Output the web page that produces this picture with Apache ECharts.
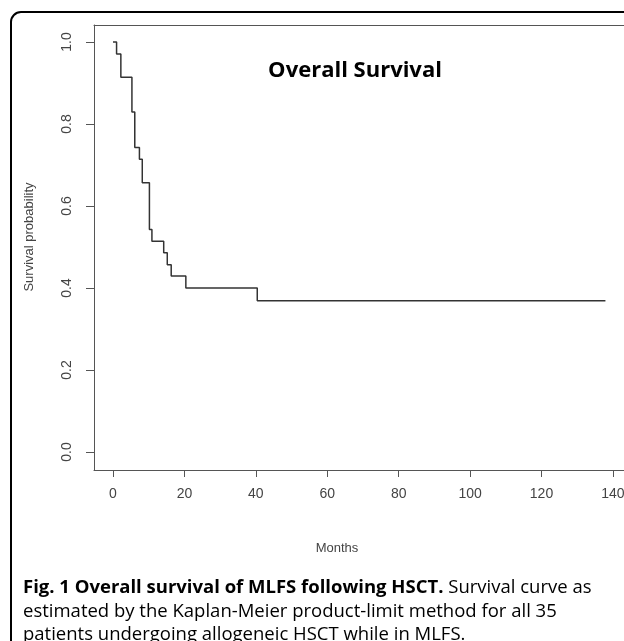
<!DOCTYPE html>
<html><head><meta charset="utf-8">
<script src="https://cdn.jsdelivr.net/npm/echarts@6/dist/echarts.min.js"></script>
<style>html,body{margin:0;padding:0;background:#fff}#c{width:624px;height:641px}</style>
</head><body><div id="c"></div>
<script>
// Kaplan-Meier estimate: time of each step (months) and survival after the step
const times = [0, 1, 2.2, 5.3, 6.1, 7.4, 8.2, 10.2, 10.9, 14.2, 15.2, 16.3, 20.4, 40.4, 137.9];
const survival = [1.0, 0.971, 0.914, 0.829, 0.743, 0.714, 0.657, 0.543, 0.514, 0.486, 0.457, 0.429, 0.400, 0.369, 0.369];
const xTicks = [0, 20, 40, 60, 80, 100, 120, 140];
const yTicks = [0, 0.2, 0.4, 0.6, 0.8, 1.0];
const yTickLabels = ['0.0', '0.2', '0.4', '0.6', '0.8', '1.0'];
const chartTitle = 'Overall Survival';
const xTitle = 'Months';
const yTitle = 'Survival probability';
const captionBold = 'Fig. 1 Overall survival of MLFS following HSCT.';
const captionLines = [' Survival curve as', 'estimated by the Kaplan-Meier product-limit method for all 35', 'patients undergoing allogeneic HSCT while in MLFS.'];

const chart = echarts.init(document.getElementById('c'), null, {renderer: 'canvas'});
const axisFont = {fontFamily: 'Liberation Sans, Arial, sans-serif', fontSize: 14, color: '#444'};
const boxLine = {show: true, onZero: false, lineStyle: {color: '#555', width: 1}};
const xRange = {min: -5.32, max: 143.1};
chart.setOption({
  animation: false,
  grid: {left: 94, top: 25, right: 0, bottom: 171, show: false, containLabel: false, outerBoundsMode: 'none'},
  xAxis: [{
    type: 'value', position: 'bottom', ...xRange,
    axisLine: boxLine,
    splitLine: {show: false},
    axisTick: {show: true, length: 7, lineStyle: {color: '#555'}, customValues: xTicks},
    axisLabel: {show: true, margin: 17, customValues: xTicks, ...axisFont}
  }, {
    type: 'value', position: 'top', ...xRange,
    axisLine: boxLine, axisTick: {show: false}, axisLabel: {show: false}, splitLine: {show: false}
  }],
  yAxis: {
    type: 'value', min: -0.0439, max: 1.0415,
    axisLine: boxLine,
    splitLine: {show: false},
    axisTick: {show: true, length: 8, lineStyle: {color: '#555'}, customValues: yTicks},
    axisLabel: {show: true, margin: 20, rotate: 90, customValues: yTicks, ...axisFont,
      formatter: v => { const i = yTicks.findIndex(t => Math.abs(t - v) < 1e-6); return i >= 0 ? yTickLabels[i] : ''; }}
  },
  series: [{
    type: 'line', step: 'end', symbol: 'none', xAxisIndex: 0,
    data: times.map((t, i) => [t, survival[i]]),
    lineStyle: {color: '#333', width: 1.5}
  }],
  graphic: [
    {type: 'rect', shape: {x: 11, y: 12, width: 660, height: 680, r: 10}, style: {fill: 'none', stroke: '#000', lineWidth: 2}, z: 0},
    {type: 'text', x: 355, y: 71, style: {text: chartTitle, font: 'bold 22px "Open Sans", sans-serif', fill: '#000', textAlign: 'center', textVerticalAlign: 'middle'}},
    {type: 'text', x: 337, y: 548, style: {text: xTitle, font: '13px "Liberation Sans", Arial, sans-serif', fill: '#444', textAlign: 'center', textVerticalAlign: 'middle'}},
    {type: 'text', x: 29, y: 237, rotation: Math.PI / 2, style: {text: yTitle, font: '13px "Liberation Sans", Arial, sans-serif', fill: '#444', textAlign: 'center', textVerticalAlign: 'middle'}},
    {type: 'text', x: 23, y: 576, style: {
      text: '{b|' + captionBold + '}{n|' + captionLines[0] + '}\n{n|' + captionLines[1] + '}\n{n|' + captionLines[2] + '}',
      rich: {
        b: {font: 'bold 18.5px "Open Sans", sans-serif', fill: '#000', lineHeight: 23.5},
        n: {font: '18.5px "Open Sans", sans-serif', fill: '#000', lineHeight: 23.5}
      }
    }}
  ]
});
</script></body></html>
